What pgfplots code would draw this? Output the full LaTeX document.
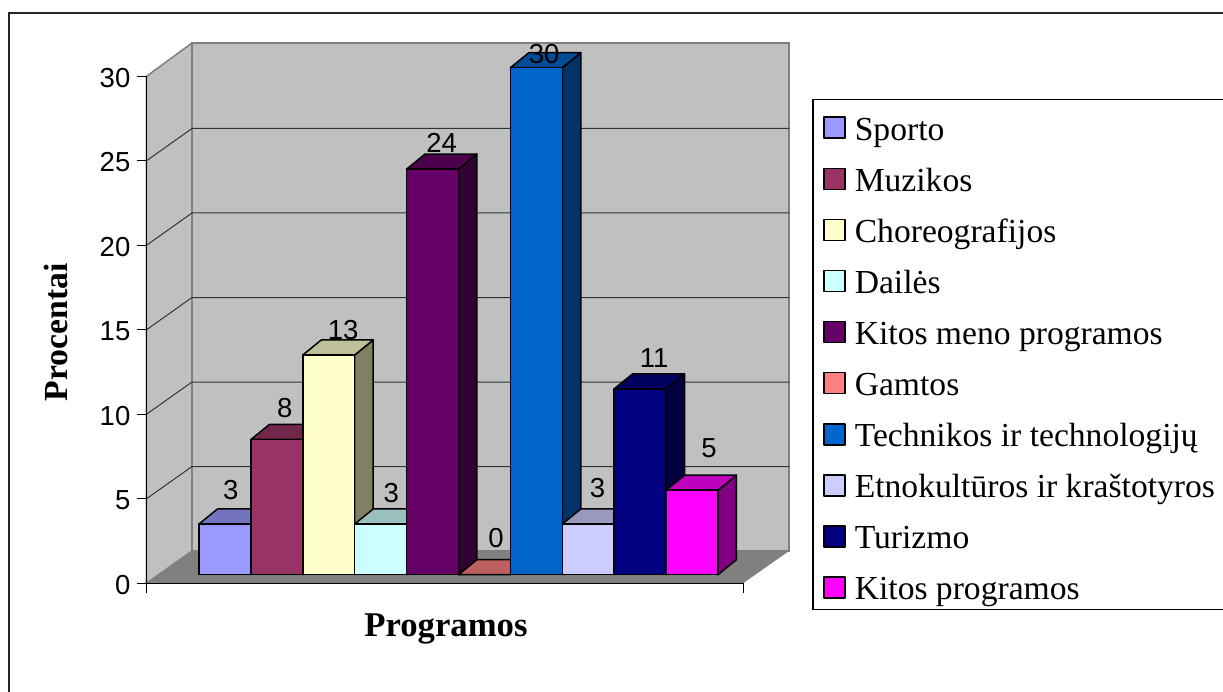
\documentclass[border=0pt]{standalone}
\usepackage{fontspec}
\setmainfont{Liberation Serif}
\newfontfamily\arial{Liberation Sans}
\usepackage{pgfplots}
\pgfplotsset{compat=1.18}

% Excel palette
\definecolor{colA}{HTML}{9999FF}
\definecolor{colB}{HTML}{993366}
\definecolor{colC}{HTML}{FFFFCC}
\definecolor{colD}{HTML}{CCFFFF}
\definecolor{colE}{HTML}{660066}
\definecolor{colF}{HTML}{FF8080}
\definecolor{colG}{HTML}{0066CC}
\definecolor{colH}{HTML}{CCCCFF}
\definecolor{colI}{HTML}{000080}
\definecolor{colJ}{HTML}{FF00FF}
\definecolor{wall}{HTML}{C0C0C0}
\definecolor{floorc}{HTML}{808080}

\newcommand{\numfont}{\arial\fontsize{27.5}{30}\selectfont}
\newcommand{\legentry}[1]{\makebox[380pt][l]{\hspace{9pt}\rule{0pt}{32.4pt}#1}}

\pgfplotsset{
    barface/.style={draw=black, line width=1.5pt, line join=round},
    barlabel/.style={
        every node near coord/.append style={
            font=\numfont, anchor=base, inner sep=0pt, text=black,
            /pgf/number format/assume math mode=true},
    },
}

% index, value, colour, legend text, label shift x, label shift y
\newcommand{\threedbar}[6]{%
    \pgfmathsetmacro\xl{#1}%
    \pgfmathsetmacro\xr{#1+1}%
    \pgfmathsetmacro\xc{#1+0.5}%
    \pgfmathsetmacro\xlb{#1+0.356}%
    \pgfmathsetmacro\xrb{#1+1.356}%
    \pgfmathsetmacro\vb{#2+0.888}%
    \edef\doside{\noexpand\addplot[forget plot, barface, fill=#3!50!black]
        coordinates {(\xr,0) (\xrb,0.888) (\xrb,\vb) (\xr,#2)} -- cycle;}%
    \edef\dotop{\noexpand\addplot[forget plot, barface, fill=#3!75!black]
        coordinates {(\xl,#2) (\xlb,\vb) (\xrb,\vb) (\xr,#2)} -- cycle;}%
    \edef\dofront{\noexpand\addplot[barface, fill=#3]
        coordinates {(\xl,0) (\xr,0) (\xr,#2) (\xl,#2)} -- cycle;}%
    \edef\dolabel{\noexpand\addplot[forget plot, draw=none, mark=none, barlabel,
        nodes near coords, point meta=y,
        every node near coord/.append style={xshift=#5pt, yshift=#6pt}]
        coordinates {(\xc,#2)};}%
    \doside\dotop\dofront
    \addlegendentry{\legentry{#4}}
    \dolabel
}

\begin{document}
\begin{tikzpicture}[x=1pt, y=1pt]
    \useasboundingbox (0,0) rectangle (1223,691);
    \fill[white] (0,0) rectangle (1223,691);
    % chart area border runs off the right and bottom of the picture
    \draw[line width=1.2pt, black!85] (9,-5) -- (9,678) -- (1230,678);

    % pixel-sized axis for walls, bars and legend
    \begin{axis}[
        at={(0,0)}, anchor=south west,
        scale only axis, width=1223pt, height=691pt,
        xmin=-3.834, xmax=19.730,
        ymin=-6.882, ymax=34.006,
        hide axis, clip=false,
        legend image code/.code={
            \draw[#1, line width=1.5pt] (0pt,1.8pt) rectangle (21pt,22.8pt);
        },
        legend style={
            at={(812.3/1223, 592/691)}, anchor=north west,
            draw=black, line width=1.2pt, fill=white,
            inner xsep=10.4pt, inner ysep=8pt, row sep=17.2pt,
            cells={anchor=base west},
            nodes={inner sep=0pt, font=\fontsize{33.6}{36}\selectfont},
        },
    ]
    % walls and floor
    \addplot[forget plot, draw=floorc, line width=1.5pt, fill=wall]
        coordinates {(-0.135,1.402) (-0.135,31.46) (11.368,31.46) (11.368,1.402)} -- cycle;
    \addplot[forget plot, draw=floorc, line width=1.5pt, fill=wall]
        coordinates {(-1.012,-0.509) (-1.012,29.49) (-0.135,31.46) (-0.135,1.402)} -- cycle;
    \addplot[forget plot, draw=none, fill=floorc]
        coordinates {(-1.012,-0.509) (-0.135,1.402) (11.368,1.402) (10.482,-0.509)} -- cycle;
    % gridlines along left and back wall
    \addplot[forget plot, black!80, line width=1pt] coordinates {(-1.012,4.491) (-0.135,6.402) (11.368,6.402)};
    \addplot[forget plot, black!80, line width=1pt] coordinates {(-1.012,9.491) (-0.135,11.402) (11.368,11.402)};
    \addplot[forget plot, black!80, line width=1pt] coordinates {(-1.012,14.491) (-0.135,16.402) (11.368,16.402)};
    \addplot[forget plot, black!80, line width=1pt] coordinates {(-1.012,19.491) (-0.135,21.402) (11.368,21.402)};
    \addplot[forget plot, black!80, line width=1pt] coordinates {(-1.012,24.491) (-0.135,26.402) (11.368,26.402)};

    \threedbar{0}{3}{colA}{Sporto}{5.8}{24}
    \threedbar{1}{8}{colB}{Muzikos}{8}{21.5}
    \threedbar{2}{13}{colC}{Choreografijos}{14.5}{15}
    \threedbar{3}{3}{colD}{Dailės}{10.5}{21.7}
    \threedbar{4}{24}{colE}{Kitos meno programos}{9}{16.5}
    \threedbar{5}{0}{colF}{Gamtos}{11.5}{26.7}
    \threedbar{6}{30}{colG}{Technikos ir technologijų}{7.7}{3.7}
    \threedbar{7}{3}{colH}{Etnokultūros ir kraštotyros}{9.25}{26}
    \threedbar{8}{11}{colI}{Turizmo}{14}{20.8}
    \threedbar{9}{5}{colJ}{Kitos programos}{17}{32.5}
    \end{axis}

    % value axis on the front edge of the left wall
    \begin{axis}[
        at={(146.5pt,107.7pt)}, anchor=south west,
        scale only axis, width=596.5pt, height=507pt,
        xmin=0, xmax=1, ymin=0, ymax=30,
        axis x line*=bottom, axis y line*=left,
        axis line style={-, black, line width=1.2pt},
        tick align=outside,
        tick style={black, line width=1pt},
        major tick length=10pt,
        xtick={0,1}, xticklabels={,},
        ytick={0,5,10,15,20,25,30},
        /pgf/number format/assume math mode=true,
        yticklabel style={font=\numfont, inner sep=0pt, xshift=-6pt, yshift=-1.5pt},
        xlabel={Programos},
        ylabel={Procentai},
        xlabel style={at={(axis description cs:0.502,-0.1053)}, anchor=base,
            font=\bfseries\fontsize{34.7}{38}\selectfont, inner sep=0pt},
        ylabel style={at={(axis description cs:-0.1328,0.4947)}, anchor=base,
            font=\bfseries\fontsize{33.7}{38}\selectfont, inner sep=0pt},
    ]
    \end{axis}
\end{tikzpicture}
\end{document}
